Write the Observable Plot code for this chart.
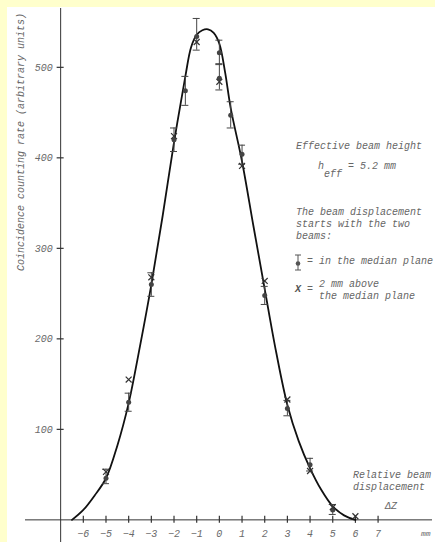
<!DOCTYPE html>
<html>
<head>
<meta charset="utf-8">
<script src="https://cdn.jsdelivr.net/npm/d3@7"></script>
<script src="https://cdn.jsdelivr.net/npm/@observablehq/plot@0.6"></script>
<style>
  html, body { margin: 0; padding: 0; }
  body { background: #ffffcc; width: 435px; height: 542px; position: relative; overflow: hidden; }
  #panel { position: absolute; left: 7px; top: 7px; width: 428px; height: 535px; background: #fff; }
  #chart { position: absolute; left: 0; top: 0; }
  .note { position: absolute; font: italic 10px "Liberation Mono", monospace; color: #666; white-space: pre; line-height: 12.3px; }
  #ytitle { position: absolute; left: 21.5px; top: 142px; transform: translate(-50%, -50%) rotate(-90deg); }
</style>
</head>
<body>
<div id="panel"></div>
<div id="chart"></div>
<div class="note" id="ytitle"></div>
<div class="note" style="left:296px; top:141px;">Effective beam height</div>
<div class="note" style="left:318px; top:160.5px;">h<span style="position:relative; top:8px;">eff</span> = 5.2 mm</div>
<div class="note" style="left:296px; top:206.5px;">The beam displacement
starts with the two
beams:</div>
<svg style="position:absolute; left:294px; top:254px;" width="8" height="18">
  <line x1="4" y1="1" x2="4" y2="16" stroke="#555" stroke-width="1"/>
  <line x1="1" y1="1" x2="7" y2="1" stroke="#555" stroke-width="1"/>
  <line x1="1" y1="16" x2="7" y2="16" stroke="#555" stroke-width="1"/>
  <circle cx="4" cy="9.5" r="2.3" fill="#555"/>
</svg>
<div class="note" style="left:307px; top:255.5px;">= in the median plane</div>
<div class="note" style="left:295px; top:284px; font-weight:bold; color:#555;">X</div>
<div class="note" style="left:307px; top:284px;">=</div>
<div class="note" style="left:319px; top:279px;">2 mm above
the median plane</div>
<div class="note" style="left:353px; top:470px;">Relative beam
displacement</div>
<div class="note" style="left:385px; top:500.5px;">ΔZ</div>
<script>
// Fitted curve
const curveX = [-6.5, -6, -5.5, -5, -4.5, -4, -3.5, -3, -2.5, -2, -1.5, -1.25, -1, -0.75, -0.5, -0.25, 0, 0.25, 0.5, 1, 1.5, 2, 2.5, 3, 3.5, 4, 4.5, 5, 5.5, 6];
const curveY = [0, 11, 27, 46, 82, 129, 192, 260, 336, 417, 490, 522, 536, 541, 542, 538, 526, 495, 455, 396, 325, 255, 186, 127, 87, 57, 33, 15, 5, 0];

// Beams in the median plane (dots with error bars)
const medX  = [-5, -4, -3, -2, -1.5, -1, 0, 0, 0.5, 1, 2, 3, 4, 5];
const medY  = [46, 130, 260, 420, 474, 534, 516, 488, 447, 404, 248, 123, 61, 11];
const medLo = [40, 120, 247, 407, 458, 519, 503, 475, 433, 393, 238, 115, 54, 6];
const medHi = [56, 140, 273, 433, 490, 554, 530, 504, 462, 414, 258, 132, 68, 17];

// Beams 2 mm above the median plane (x marks)
const abX = [-5, -4, -3, -2, -1, 0, 1, 2, 3, 4, 5, 6];
const abY = [53, 155, 268, 424, 528, 484, 391, 264, 133, 54, 14, 4];

// Ticks
const xTicks = [-6, -5, -4, -3, -2, -1, 0, 1, 2, 3, 4, 5, 6, 7];
const yTicks = [100, 200, 300, 400, 500];
const yAxisAt = -7;
const yTitle = "Coincidence counting rate (arbitrary units)";

document.getElementById("ytitle").textContent = yTitle;

const curve = curveX.map((x, i) => ({x, y: curveY[i]}));
const med = medX.map((x, i) => ({x, y: medY[i], lo: medLo[i], hi: medHi[i]}));
const above = abX.map((x, i) => ({x, y: abY[i]}));

const font = "Liberation Mono, monospace";
const grey = "#6a6a6a";

const plot = Plot.plot({
  width: 435,
  height: 542,
  marginLeft: 25,
  marginRight: 3,
  marginTop: 8,
  marginBottom: 0,
  x: {domain: [-8.55, 9.4], axis: null},
  y: {domain: [-25, 565], axis: null},
  style: {background: "transparent", overflow: "visible"},
  marks: [
    // axes lines
    Plot.ruleY([0], {stroke: "#333", strokeWidth: 1}),
    Plot.ruleX([yAxisAt], {stroke: "#333", strokeWidth: 1}),
    // x ticks
    Plot.ruleX(xTicks, {x: d => d, y1: 0, y2: 0, insetTop: -3.5, insetBottom: -3.5, stroke: "#333", strokeWidth: 1.2}),
    Plot.text(xTicks, {x: d => d, y: 0, dy: 14, text: d => d < 0 ? "\u2212" + Math.abs(d) : String(d),
      fontFamily: font, fontStyle: "italic", fontSize: 10, fill: grey}),
    Plot.text(["mm"], {frameAnchor: "right", y: 0, dy: 14, dx: -2, textAnchor: "end",
      fontFamily: font, fontStyle: "italic", fontSize: 8, fill: grey}),
    // y ticks
    Plot.ruleY(yTicks, {y: d => d, x1: yAxisAt, x2: yAxisAt, insetLeft: -3.5, insetRight: -3.5, stroke: "#333", strokeWidth: 1.2}),
    Plot.text(yTicks, {x: yAxisAt, y: d => d, dx: -8, textAnchor: "end", text: d => String(d),
      fontFamily: font, fontStyle: "italic", fontSize: 10, fill: grey}),
    // fitted curve
    Plot.line(curve, {x: "x", y: "y", curve: "catmull-rom", stroke: "#111", strokeWidth: 1.8}),
    // error bars
    Plot.ruleX(med, {x: "x", y1: "lo", y2: "hi", stroke: "#444", strokeWidth: 1}),
    Plot.ruleY(med, {y: "lo", x1: "x", x2: "x", insetLeft: -3.5, insetRight: -3.5, stroke: "#444", strokeWidth: 1}),
    Plot.ruleY(med, {y: "hi", x1: "x", x2: "x", insetLeft: -3.5, insetRight: -3.5, stroke: "#444", strokeWidth: 1}),
    Plot.dot(med, {x: "x", y: "y", r: 2.5, fill: "#444", stroke: "none"}),
    // x marks
    Plot.dot(above, {x: "x", y: "y", symbol: "times", r: 2.8, stroke: "#333", strokeWidth: 1.2})
  ]
});
document.getElementById("chart").appendChild(plot);
</script>
</body>
</html>
